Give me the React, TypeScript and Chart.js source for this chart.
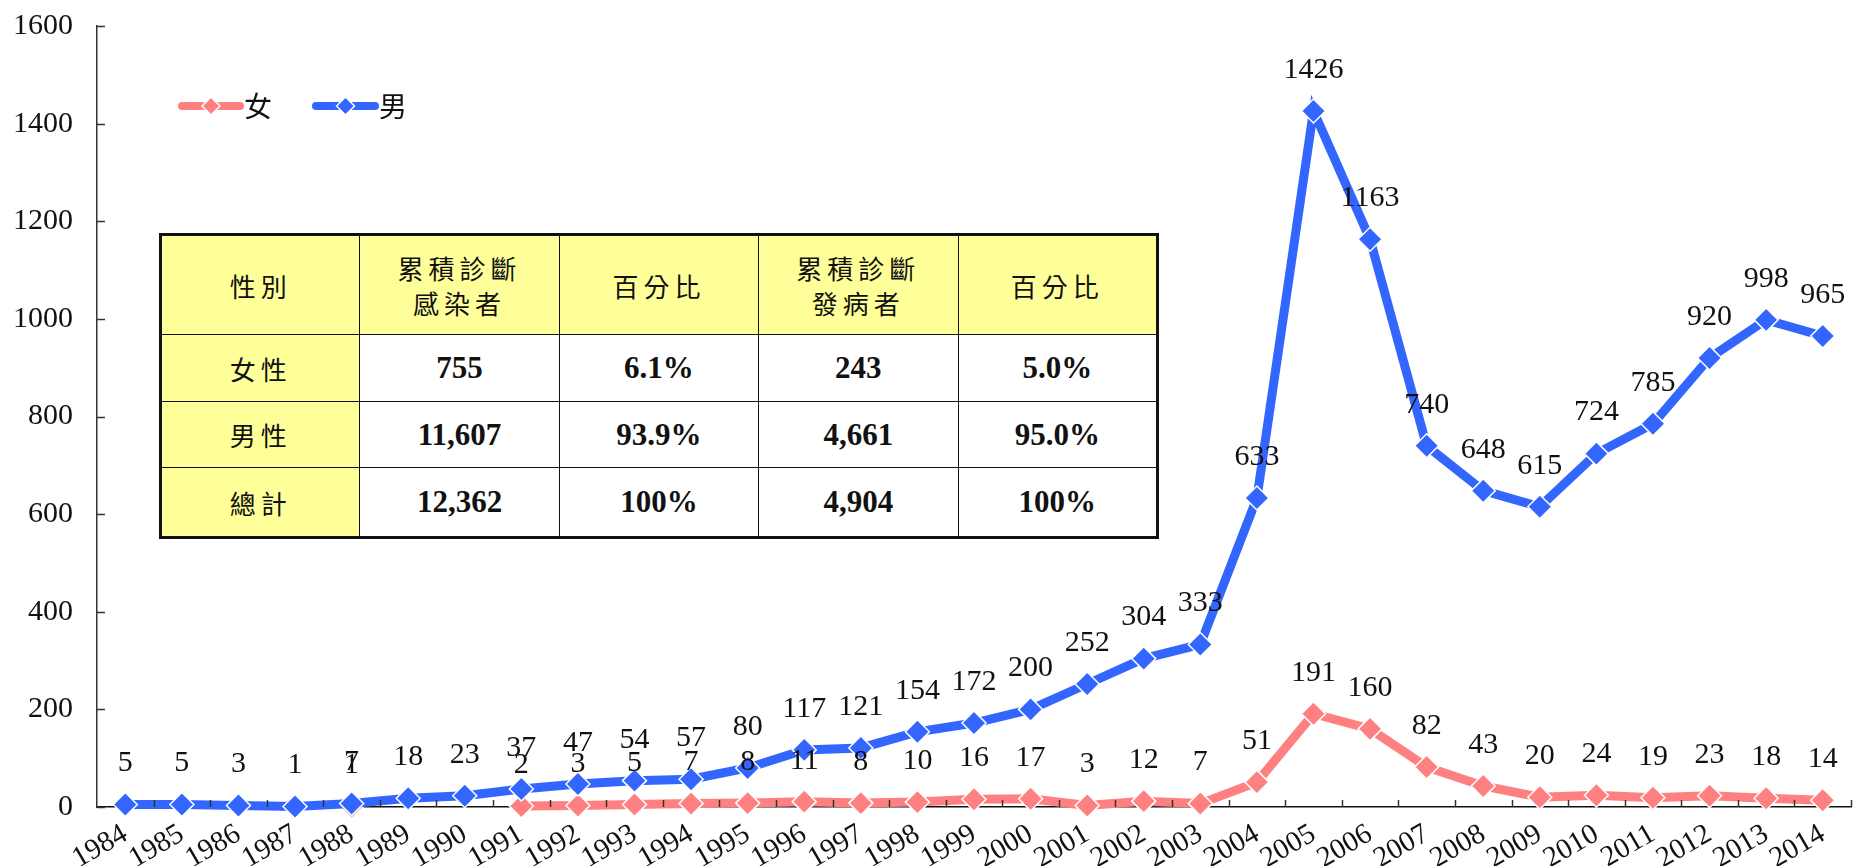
import React, { useEffect, useRef } from 'react';
import { Chart, registerables } from 'chart.js';

Chart.register(...registerables);

const years = [
  '1984', '1985', '1986', '1987', '1988', '1989', '1990', '1991', '1992', '1993', '1994',
  '1995', '1996', '1997', '1998', '1999', '2000', '2001', '2002', '2003', '2004', '2005',
  '2006', '2007', '2008', '2009', '2010', '2011', '2012', '2013', '2014',
];
const femaleValues: (number | null)[] = [
  null, null, null, null, 1, null, null, 2, 3, 5, 7, 8, 11, 8, 10, 16, 17, 3, 12, 7, 51,
  191, 160, 82, 43, 20, 24, 19, 23, 18, 14,
];
const maleValues: (number | null)[] = [
  5, 5, 3, 1, 7, 18, 23, 37, 47, 54, 57, 80, 117, 121, 154, 172, 200, 252, 304, 333, 633,
  1426, 1163, 740, 648, 615, 724, 785, 920, 998, 965,
];
const seriesNames = ['女', '男'];
const yMin = 0;
const yMax = 1600;
const yStep = 200;

const tableHeader = ['性別', '累積診斷\n感染者', '百分比', '累積診斷\n發病者', '百分比'];
const tableRows = [
  ['女性', '755', '6.1%', '243', '5.0%'],
  ['男性', '11,607', '93.9%', '4,661', '95.0%'],
  ['總計', '12,362', '100%', '4,904', '100%'],
];

const FEMALE_COLOR = '#FF8080';
const MALE_COLOR = '#3366FF';
const NUM_FONT = "'Liberation Serif', 'Times New Roman', serif";
const CJK_FONT = "'Noto Sans CJK TC', 'Noto Sans CJK SC', sans-serif";

function drawDiamond(ctx: CanvasRenderingContext2D, x: number, y: number, r: number, color: string) {
  ctx.beginPath();
  ctx.moveTo(x - r, y);
  ctx.lineTo(x, y - r);
  ctx.lineTo(x + r, y);
  ctx.lineTo(x, y + r);
  ctx.closePath();
  ctx.fillStyle = color;
  ctx.fill();
  ctx.strokeStyle = '#ffffff';
  ctx.lineWidth = 1.5;
  ctx.stroke();
}

const decorPlugin = {
  id: 'decor',
  afterDatasetsDraw(chart: any) {
    const { ctx } = chart;
    ctx.save();
    ctx.font = `30px ${NUM_FONT}`;
    ctx.fillStyle = '#111111';
    ctx.textAlign = 'center';
    ctx.textBaseline = 'middle';
    chart.data.datasets.forEach((ds: any, di: number) => {
      const meta = chart.getDatasetMeta(di);
      meta.data.forEach((pt: any, i: number) => {
        const v = ds.data[i];
        if (v === null || v === undefined) return;
        ctx.fillText(String(v), pt.x, pt.y - 41);
      });
    });
    ctx.restore();
  },
  afterDraw(chart: any) {
    const { ctx, chartArea, scales } = chart;
    const y = scales.y;
    ctx.save();
    ctx.strokeStyle = '#333333';
    ctx.lineWidth = 1.5;
    // y ticks (inward)
    y.ticks.forEach((_t: any, i: number) => {
      const py = Math.round(y.getPixelForTick(i)) + 0.5;
      ctx.beginPath();
      ctx.moveTo(chartArea.left, py);
      ctx.lineTo(chartArea.left + 8, py);
      ctx.stroke();
    });
    // x ticks between categories (inward)
    const n = years.length;
    const step = (chartArea.right - chartArea.left) / n;
    for (let i = 1; i <= n; i++) {
      const px = Math.round(chartArea.left + i * step) + 0.5;
      ctx.beginPath();
      ctx.moveTo(px, chartArea.bottom);
      ctx.lineTo(px, chartArea.bottom - 7);
      ctx.stroke();
    }
    // legend
    const items = [
      { x1: 182, x2: 240, color: FEMALE_COLOR, text: seriesNames[0] },
      { x1: 316, x2: 375, color: MALE_COLOR, text: seriesNames[1] },
    ];
    const ly = 106;
    items.forEach((it) => {
      ctx.beginPath();
      ctx.strokeStyle = it.color;
      ctx.lineWidth = 8;
      ctx.lineCap = 'round';
      ctx.moveTo(it.x1, ly);
      ctx.lineTo(it.x2, ly);
      ctx.stroke();
      drawDiamond(ctx, (it.x1 + it.x2) / 2, ly, 9, it.color);
      ctx.font = `28px ${CJK_FONT}`;
      ctx.fillStyle = '#111111';
      ctx.textAlign = 'left';
      ctx.textBaseline = 'middle';
      ctx.fillText(it.text, it.x2 + 4, ly);
    });
    ctx.restore();
  },
};

export default function App() {
  const canvasRef = useRef<HTMLCanvasElement | null>(null);

  useEffect(() => {
    if (!canvasRef.current) return;
    const mkDataset = (label: string, data: (number | null)[], color: string) => ({
      label,
      data,
      borderColor: color,
      backgroundColor: color,
      borderWidth: 9,
      pointStyle: 'rectRot' as const,
      pointRadius: 12,
      pointBackgroundColor: color,
      pointBorderColor: '#ffffff',
      pointBorderWidth: 1.5,
      tension: 0,
      spanGaps: false,
      clip: false as const,
    });
    const chart = new Chart(canvasRef.current, {
      type: 'line',
      data: {
        labels: years,
        datasets: [
          mkDataset(seriesNames[1], maleValues, MALE_COLOR),
          mkDataset(seriesNames[0], femaleValues, FEMALE_COLOR),
        ],
      },
      options: {
        responsive: false,
        animation: false,
        devicePixelRatio: 1,
        layout: { autoPadding: false, padding: { left: 0, top: 26, right: 2, bottom: 0 } },
        plugins: {
          legend: { display: false },
          tooltip: { enabled: false },
        },
        scales: {
          x: {
            offset: true,
            grid: { display: false, drawTicks: false },
            border: { display: true, color: '#111111', width: 1.5 },
            ticks: {
              font: { family: NUM_FONT, size: 29 },
              color: '#111111',
              minRotation: 30,
              maxRotation: 30,
              padding: 10,
              autoSkip: false,
            },
            afterFit: (s: any) => {
              s.height = 59;
              s.paddingLeft = 0;
              s.paddingRight = 0;
            },
          },
          y: {
            min: yMin,
            max: yMax,
            grid: { display: false, drawTicks: false },
            border: { display: true, color: '#333333', width: 1.5 },
            ticks: {
              stepSize: yStep,
              font: { family: NUM_FONT, size: 30 },
              color: '#111111',
              padding: 24,
              callback: (v: any) => String(v),
            },
            afterFit: (s: any) => {
              s.width = 97;
              s.paddingTop = 0;
              s.paddingBottom = 0;
            },
          },
        },
      },
      plugins: [decorPlugin],
    });
    if ((document as any).fonts && (document as any).fonts.ready) {
      (document as any).fonts.ready.then(() => {
        try {
          chart.update();
        } catch (e) {
          /* ignore */
        }
      });
    }
    return () => chart.destroy();
  }, []);

  const cellBase: React.CSSProperties = {
    border: '1.5px solid #111',
    textAlign: 'center',
    verticalAlign: 'middle',
    padding: 0,
  };
  const rowHeights = [67, 66, 70];

  return (
    <div style={{ position: 'absolute', left: 0, top: 0, width: 1853, height: 866, background: '#fff' }}>
      <canvas ref={canvasRef} width={1853} height={866} style={{ display: 'block' }} />
      <table
        style={{
          position: 'absolute',
          left: 159,
          top: 233,
          width: 1000,
          borderCollapse: 'collapse',
          border: '3px solid #111',
          background: '#fff',
          tableLayout: 'fixed',
        }}
      >
        <tbody>
          <tr style={{ height: 100 }}>
            {tableHeader.map((h, i) => (
              <td
                key={i}
                style={{
                  ...cellBase,
                  background: '#FFFF99',
                  fontFamily: CJK_FONT,
                  fontSize: 26,
                  letterSpacing: 5,
                  lineHeight: '35px',
                  whiteSpace: 'pre-line',
                  color: '#111',
                }}
              >
                {h}
              </td>
            ))}
          </tr>
          {tableRows.map((row, ri) => (
            <tr key={ri} style={{ height: rowHeights[ri] }}>
              {row.map((c, ci) =>
                ci === 0 ? (
                  <td
                    key={ci}
                    style={{
                      ...cellBase,
                      background: '#FFFF99',
                      fontFamily: CJK_FONT,
                      fontSize: 26,
                      letterSpacing: 5,
                      color: '#111',
                    }}
                  >
                    {c}
                  </td>
                ) : (
                  <td
                    key={ci}
                    style={{
                      ...cellBase,
                      fontFamily: NUM_FONT,
                      fontWeight: 'bold',
                      fontSize: 31,
                      color: '#111',
                    }}
                  >
                    {c}
                  </td>
                )
              )}
            </tr>
          ))}
        </tbody>
      </table>
    </div>
  );
}
